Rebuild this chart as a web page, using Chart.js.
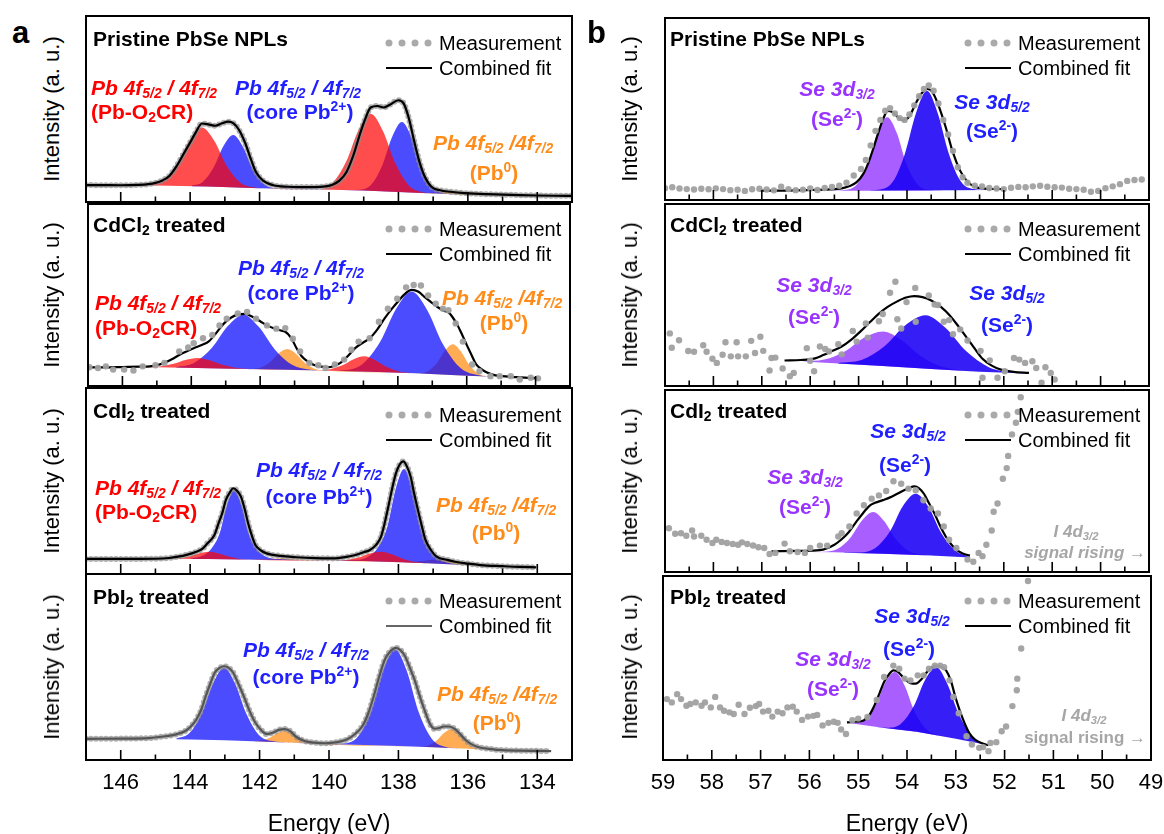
<!DOCTYPE html>
<html lang="en">
<head>
<meta charset="UTF-8">
<title>XPS Pb 4f / Se 3d</title>
<script src="https://cdn.jsdelivr.net/npm/chart.js"></script>
<style>
  body { margin: 0; background: #fff; font-family: "Liberation Sans", Arial, sans-serif; }
  #fig { position: relative; width: 1164px; height: 834px; overflow: hidden; }
  canvas { position: absolute; }
  .t { position: absolute; white-space: nowrap; line-height: 1; }
  .c { transform: translate(-50%, -50%); }
  .l { transform: translate(0, -50%); }
  .r { transform: translate(-100%, -50%); }
  .title { font-weight: bold; font-size: 21px; color: #000; }
  .leg { font-size: 20px; color: #000; }
  .lab { font-weight: bold; font-size: 21px; }
  .gray { font-weight: bold; font-size: 17px; color: #a6a6a6; }
  .it { font-style: italic; }
  sub { font-size: 0.66em; vertical-align: -0.28em; line-height: 0; }
  sup { font-size: 0.66em; vertical-align: 0.55em; line-height: 0; }
  .ylab { position: absolute; font-size: 22px; white-space: nowrap; transform: translate(-50%, -50%) rotate(-90deg); }
  .xlab { position: absolute; font-size: 23px; white-space: nowrap; transform: translate(-50%, -50%); }
  .plab { position: absolute; font-size: 31px; font-weight: bold; line-height: 1; }
  .dot { position: absolute; width: 7px; height: 7px; border-radius: 50%; background: #aaa; transform: translate(-50%, -50%); }
  .lline { position: absolute; height: 2px; transform: translate(0, -50%); }
</style>
</head>
<body>
<div id="fig"></div>

<script>
// ---------- axis ticks ----------
const pbMajor = [146, 144, 142, 140, 138, 136, 134];
const pbMinor = [145, 143, 141, 139, 137, 135];
const seMajor = [58, 57, 56, 55, 54, 53, 52, 51, 50];
const seMinor = [58.5, 57.5, 56.5, 55.5, 54.5, 53.5, 52.5, 51.5, 50.5, 49.5];
const pbTickLabels = [146, 144, 142, 140, 138, 136, 134];
const seTickLabels = [59, 58, 57, 56, 55, 54, 53, 52, 51, 50, 49];

// ---------- (a) Pb 4f : pristine ----------
const pristinePbBg = [[147,9.1],[145,8.9],[143.5,8.3],[142,7.4],[140.5,6.9],[139,6.2],[137.5,5.0],[136,3.9],[134.5,3.4],[133,3.2]];
const pristinePbRed = [[145.16,9.2],[144.76,11.5],[144.36,20.5],[144.01,33.3],[143.66,40.0],[143.31,33.0],[142.96,19.8],[142.56,10.5],[142.16,7.85],[141.8,7.3],
  [140.3,6.85],[139.9,10.2],[139.5,21.9],[139.15,38.6],[138.8,47.5],[138.45,38.3],[138.1,21.2],[137.7,8.9],[137.3,5.3],[136.9,4.6]];
const pristinePbBlue = [[143.96,8.75],[143.64,10.75],[143.32,18.7],[143.04,30.05],[142.76,36.0],[142.48,29.7],[142.2,18.1],[141.88,9.8],[141.56,7.45],[141.2,7.2],
  [139.4,6.4],[139.1,6.6],[138.78,9.4],[138.46,19.9],[138.18,35.05],[137.9,43.0],[137.62,34.6],[137.34,18.95],[137.02,8.0],[136.7,4.75],[136.3,4.1]];
const pristinePbOrange = [[137.3,4.85],[136.9,5.1],[136.6,5.7],[136.4,5.85],[136.2,5.45],[135.9,4.45],[135.5,3.75]];
const pristinePbFit = [[147,9.1],[146.5,9.05],[146,9.0],[145.5,9.2],[145.2,9.6],[145.0,10.3],[144.8,11.6],[144.6,14],[144.4,19],[144.2,25.5],[144.0,32],[143.85,37],
  [143.66,42.2],[143.45,41.6],[143.27,41.0],[143.1,42.2],[142.9,43.2],[142.75,42.3],[142.6,39],[142.42,32],[142.25,23],[142.1,16],[141.9,11.5],[141.6,9.0],
  [141.2,8.2],[140.8,8.0],[140.4,8.0],[140.1,8.4],[139.9,9.3],[139.7,11.5],[139.5,16],[139.3,25],[139.1,37],[138.95,45],[138.8,50.8],[138.6,51.6],[138.43,50.8],
  [138.25,52.3],[138.0,54.7],[137.85,53],[137.7,45],[137.55,33],[137.4,22],[137.25,14],[137.05,8.2],[136.8,6.3],[136.5,5.5],[136.1,4.8],[135.5,4.2],[135,4.0],
  [134.5,3.7],[134,3.5],[133.5,3.35],[133,3.3]];
const pristinePbMeas = pristinePbFit;   // measured points sit on the fit curve

// ---------- (a) Pb 4f : CdCl2 ----------
const cdcl2PbBg = [[147,10.4],[145,10.3],[143.5,9.8],[142,9.2],[140.5,8.6],[139,8.0],[137.5,7.0],[136,5.6],[135,5.0],[133.9,4.3]];
const cdcl2PbBlue = [[144.44,10.4],[143.92,12.65],[143.4,20.95],[142.94,32.9],[142.49,39.2],[142.04,32.5],[141.58,20.25],[141.06,11.5],[140.54,8.9],[140.0,8.4],
  [139.55,8.7],[139.03,12.0],[138.51,24.4],[138.05,42.4],[137.6,51.9],[137.15,41.8],[136.69,23.0],[136.17,9.75],[135.65,5.9],[135.2,5.1]];
const cdcl2PbRed = [[145.32,10.35],[144.92,10.7],[144.52,12.2],[144.17,14.3],[143.82,15.4],[143.47,14.1],[143.12,11.75],[142.72,10.0],[142.32,9.3],
  [140.6,8.65],[140.33,8.6],[139.97,9.15],[139.61,11.35],[139.3,14.6],[138.98,16.3],[138.67,14.3],[138.35,10.7],[137.99,8.1],[137.63,7.1]];
const cdcl2PbOrange = [[142.26,9.3],[141.98,10.15],[141.7,13.35],[141.46,17.95],[141.21,20.35],[140.96,17.75],[140.72,13.0],[140.44,9.6],[140.16,8.45],
  [137.7,7.15],[137.4,6.9],[137.13,8.1],[136.86,12.75],[136.63,19.45],[136.4,23.0],[136.17,19.05],[135.94,11.95],[135.67,6.9],[135.4,5.2]];
const cdcl2PbFit = [[147,10.3],[146.5,10.2],[146,10.4],[145.5,10.6],[145.2,10.8],[145.0,11.4],[144.78,12.7],[144.55,14.8],[144.35,17.0],[144.1,19.3],[143.93,20.8],
  [143.7,22.5],[143.5,24.4],[143.3,28.5],[143.07,34.0],[142.85,37.5],[142.65,39.2],[142.44,39.6],[142.2,37.8],[142.0,35.6],[141.8,33.3],[141.59,31.6],[141.4,30.5],
  [141.27,29.8],[141.1,26.5],[140.95,21.0],[140.8,16.5],[140.63,13.6],[140.45,11.7],[140.31,10.9],[140.04,10.3],[139.85,11.0],[139.67,12.7],[139.45,16.5],
  [139.24,20.8],[139.0,24.0],[138.82,26.2],[138.6,31],[138.39,37.0],[138.17,42.5],[137.97,47.0],[137.8,50.5],[137.6,52.8],[137.4,51.8],[137.22,48.8],[137.03,46.0],
  [136.85,43.4],[136.65,41.2],[136.53,40.4],[136.4,37.5],[136.27,33.5],[136.13,28],[136.0,22.6],[135.86,17],[135.73,12.0],[135.55,9.0],[135.41,7.4],[135.2,6.0],
  [134.99,5.4],[134.56,4.9],[134.2,4.5],[133.93,4.2]];
const cdcl2PbMeas = [[146.96,10.3],[146.71,9.9],[146.48,10.8],[146.27,9.0],[145.95,9.0],[145.68,8.5],[145.41,10.8],[145.04,11.4],[144.78,12.7],[144.35,19.0],
  [144.09,21.2],[143.93,23.5],[143.66,26.2],[143.39,28.0],[143.18,33.3],[142.97,37.0],[142.65,39.8],[142.38,40.7],[142.12,37.0],[141.8,33.3],[141.53,31.5],
  [141.27,31.8],[141.05,26.0],[140.84,19.0],[140.57,12.7],[140.31,11.4],[140.1,9.9],[139.83,11.8],[139.56,14.5],[139.35,19.9],[139.14,24.4],[138.82,26.2],
  [138.55,35.3],[138.29,42.5],[138.02,47.9],[137.76,54.2],[137.54,55.5],[137.33,55.2],[137.12,49.7],[136.9,45.2],[136.69,42.5],[136.53,41.6],[136.32,34.4],
  [136.11,24.4],[135.84,11.8],[135.63,8.1],[135.31,5.4],[135.04,5.4],[134.72,5.4],[134.46,3.6],[134.14,4.5],[133.93,4.2]];

// ---------- (a) Pb 4f : CdI2 ----------
const cdi2PbBg = [[147,8.1],[145,8.2],[143.5,8.0],[142,7.6],[140.5,7.4],[139,7.0],[137.5,6.0],[136,4.8],[134,3.6]];
const cdi2PbBlue = [[144.0,8.15],[143.63,9.9],[143.39,13.6],[143.15,21.9],[142.94,37.15],[142.73,45.2],[142.52,37.05],[142.31,21.7],[142.07,13.2],[141.83,9.45],
  [141.45,8.0],[140.0,7.25],[139.2,7.6],[138.86,9.45],[138.59,14.2],[138.32,25.35],[138.08,45.65],[137.84,56.4],[137.6,45.35],[137.36,24.65],[137.09,13.1],
  [136.82,7.9],[136.5,5.8],[136.1,4.9]];
const cdi2PbRed = [[144.65,8.2],[144.33,8.5],[144.01,9.6],[143.73,11.15],[143.45,12.0],[143.17,11.05],[142.89,9.35],[142.57,8.1],[142.25,7.65],
  [140.0,7.25],[139.85,7.25],[139.49,7.57],[139.13,9.0],[138.82,11.05],[138.5,12.0],[138.19,10.65],[137.87,8.25],[137.51,6.47],[137.15,5.75]];
const cdi2PbOrange = [[142.4,7.7],[141.9,7.95],[141.4,8.5],[140.9,7.85],[140.4,7.4],[138.2,6.45],[137.8,6.33],[137.4,6.9],[137.05,7.6],[136.7,7.95],
  [136.35,7.1],[136.0,5.8],[135.6,4.78],[135.2,4.3]];
const cdi2PbFit = [[147,8.1],[146,8.1],[145,8.2],[144.6,8.6],[144.35,9.3],[144.1,10.3],[143.82,12.0],[143.65,13.5],[143.5,16.5],[143.3,21],[143.18,27.3],
  [143.07,33],[142.97,39.9],[142.85,44],[142.76,46.1],[142.65,44.8],[142.54,41.7],[142.43,35],[142.33,27.3],[142.22,20.5],[142.12,15.6],[141.95,12.5],
  [141.8,11.1],[141.4,9.7],[140.95,9.0],[140.4,8.5],[139.88,8.4],[139.5,9.2],[139.24,10.2],[139.0,11.7],[138.82,12.9],[138.65,15.5],[138.5,20.1],[138.4,27],
  [138.29,36.3],[138.18,46],[138.07,54.2],[137.96,59],[137.86,60.5],[137.76,58],[137.65,52.4],[137.55,43.5],[137.44,34.5],[137.33,26],[137.22,18.3],
  [137.05,12.5],[136.9,9.3],[136.6,7.6],[136.37,6.6],[136.0,5.6],[135.63,4.8],[135.0,4.2],[134.5,3.8],[134.03,3.6]];
const cdi2PbMeas = cdi2PbFit;

// ---------- (a) Pb 4f : PbI2 ----------
const pbi2PbBg = [[147,11.4],[145,11.3],[144,11.0],[143,10.6],[142,10.0],[141,9.3],[140,8.6],[139,8.1],[138,7.5],[137,6.8],[136,6.0],[135,5.3],[134,4.9],[133.6,4.8]];
const pbi2PbBlue = [[144.4,11.5],[144.02,14.5],[143.66,25.45],[143.34,41.25],[143.02,49.6],[142.7,40.9],[142.38,24.85],[142.02,13.5],[141.64,10.15],[141.2,9.45],
  [140.0,8.6],[139.54,8.97],[139.16,12.8],[138.77,27.35],[138.44,48.35],[138.1,59.4],[137.76,47.95],[137.43,26.5],[137.04,11.45],[136.66,7.12],[136.2,6.15]];
const pbi2PbOrange = [[142.17,10.1],[141.93,10.5],[141.69,12.1],[141.48,14.45],[141.27,15.6],[141.06,14.15],[140.85,11.5],[140.61,9.6],[140.37,8.85],
  [137.6,7.2],[137.38,7.05],[137.14,7.8],[136.9,10.5],[136.69,14.45],[136.48,16.5],[136.27,14.1],[136.06,9.85],[135.82,6.75],[135.58,5.7]];
const pbi2PbFit = [[147,11.4],[146,11.5],[145.2,11.8],[144.67,12.9],[144.4,13.8],[144.14,15.6],[143.98,18],[143.82,21.8],[143.68,27],[143.55,34.3],[143.42,41],
  [143.29,46.9],[143.15,49.5],[143.02,50.4],[142.89,49.5],[142.76,46.9],[142.6,40.5],[142.44,33.5],[142.28,26],[142.12,20.0],[141.95,16],[141.8,14.0],
  [141.68,14.3],[141.59,14.9],[141.45,16.2],[141.27,16.6],[141.1,15.3],[140.95,12.5],[140.7,10.2],[140.41,9.3],[140.1,9.0],[139.88,9.3],[139.66,10],
  [139.46,11.3],[139.25,14],[139.03,18.4],[138.87,25],[138.71,34.3],[138.55,45],[138.39,54],[138.23,58.5],[138.07,60.3],[137.94,59],[137.81,55.8],
  [137.68,50],[137.54,43.3],[137.38,34],[137.22,25.4],[137.08,19],[136.96,16.8],[136.82,17.2],[136.69,18.0],[136.55,18],[136.37,16.6],[136.2,13.5],
  [136.05,10.5],[135.85,8.0],[135.63,6.6],[135.3,5.8],[135.1,5.4],[134.5,5.0],[134.0,4.9],[133.6,4.8]];
const pbi2PbMeas = pbi2PbFit;

// ---------- (b) Se 3d : pristine ----------
const pristineSeBg = [[57.03,5.1],[55,5.15],[53,5.3],[52,5.6]];
const pristineSePurple = [[55.6,5.15],[55.25,5.6],[55.03,8.8],[54.8,20.3],[54.61,36.8],[54.41,45.5],[54.21,36.8],[54.02,20.3],[53.79,8.8],[53.57,5.65],[53.3,5.3]];
const pristineSeBlue = [[54.9,5.2],[54.55,5.8],[54.29,10.1],[54.04,25.75],[53.81,48.05],[53.59,60.0],[53.37,48.1],[53.14,25.85],[52.89,10.3],[52.63,6.05],[52.3,5.5]];
const pristineSeFit = [[57.03,5.1],[56.5,5.2],[56.0,5.5],[55.6,5.8],[55.35,6.4],[55.2,7.5],[55.04,9.8],[54.9,14.5],[54.8,20.3],[54.7,28],[54.58,38],[54.5,44],
  [54.4,49],[54.3,48.3],[54.2,45.8],[54.08,43.8],[53.95,46],[53.82,53],[53.7,58.5],[53.58,61],[53.48,59.5],[53.35,52],[53.2,40],[53.05,26],[52.9,16],
  [52.75,10],[52.6,7.3],[52.4,6.3],[52.0,6.0]];
const pristineSeMeas = [[59.0,6.5],[58.85,7.0],[58.7,6.3],[58.55,6.0],[58.4,5.8],[58.25,6.2],[58.1,5.9],[57.95,6.4],[57.8,6.0],[57.65,5.4],[57.5,5.6],[57.35,5.0],
  [57.2,5.9],[57.05,6.2],[56.9,5.8],[56.75,5.3],[56.6,7.3],[56.45,6.0],[56.3,5.4],[56.15,5.7],[56.0,6.3],[55.85,5.5],[55.7,6.6],[55.55,7.2],[55.4,7.8],
  [55.25,9.5],[55.1,13.5],[54.95,17],[54.85,22],[54.75,30],[54.65,38],[54.55,44],[54.45,49],[54.35,50.5],[54.25,47.5],[54.15,45],[54.05,44],[53.95,47],
  [53.85,52],[53.75,57],[53.65,61],[53.55,63],[53.45,60],[53.35,53],[53.25,44],[53.15,36],[53.05,27],[52.95,18],[52.85,12.5],[52.75,9.5],[52.6,7.8],
  [52.45,7.5],[52.3,6.6],[52.15,6.3],[52.0,6.0],[51.85,6.7],[51.7,7.2],[51.55,7.0],[51.4,7.5],[51.25,7.8],[51.1,7.3],[50.95,7.0],[50.8,6.8],[50.65,6.2],
  [50.5,6.0],[50.35,5.6],[50.2,4.5],[50.05,5.0],[49.9,6.5],[49.75,7.5],[49.6,8.7],[49.45,10.5],[49.3,11.0],[49.15,11.3]];

// ---------- (b) Se 3d : CdCl2 ----------
const cdcl2SeBg = [[56.53,14.0],[55.5,12.5],[54.5,11.0],[53.5,9.3],[52.5,7.8],[51.48,6.9]];
const cdcl2SePurple = [[56.15,13.5],[55.71,14.5],[55.27,19.25],[54.89,26.5],[54.5,30],[54.11,25.2],[53.73,16.8],[53.29,10.7],[52.85,8.5],[52.4,7.7]];
const cdcl2SeBlue = [[55.42,12.7],[54.94,14.25],[54.46,21.95],[54.04,33.25],[53.62,38.9],[53.2,31.85],[52.78,19.2],[52.3,10.2],[51.82,7.5],[51.5,6.95]];
const cdcl2SeFit = [[56.53,14.0],[56.2,14.3],[55.9,15.2],[55.73,17.0],[55.55,19.2],[55.35,21.7],[55.15,25.5],[54.96,30.0],[54.77,35],[54.58,39.8],[54.4,43.5],
  [54.2,46.5],[54.02,48.6],[53.85,49.4],[53.68,48.8],[53.5,47.0],[53.3,43.5],[53.12,38.9],[52.93,32.5],[52.75,26.0],[52.6,20.5],[52.44,15.0],[52.25,11.2],
  [52.06,9.0],[51.8,7.8],[51.48,7.2]];
const cdcl2SeMeas = [[58.9,28.9],[58.86,21.0],[58.71,25.1],[58.52,19.2],[58.4,18.8],[58.21,22.4],[58.14,18.8],[58.02,15.0],[57.93,12.7],[57.81,17.2],[57.75,24.0],
  [57.64,16.3],[57.52,24.0],[57.49,16.3],[57.33,16.3],[57.22,24.8],[57.14,18.1],[57.03,27.1],[56.97,19.3],[56.84,8.5],[56.8,15.4],[56.72,15.6],[56.57,9.6],
  [56.42,5.4],[56.34,7.2],[56.07,20.8],[56.0,13.9],[55.92,8.1],[55.8,21.7],[55.69,20.3],[55.61,19.0],[55.42,23.0],[55.35,17.4],[55.12,30.2],[55.04,24.4],
  [54.85,34.4],[54.81,26.6],[54.58,35.6],[54.5,39.6],[54.35,51.2],[54.24,57.3],[54.2,36.7],[54.12,31.6],[54.01,46.1],[53.83,53.9],[53.82,35.3],[53.55,49.7],
  [53.43,44.8],[53.36,44.5],[53.24,35.3],[53.13,36.2],[53.05,28.4],[52.9,31.1],[52.75,25.0],[52.48,19.3],[52.44,4.5],[52.29,14.1],[52.13,4.5],[51.98,8.1],
  [51.79,15.4],[51.68,14.5],[51.56,12.7],[51.41,13.6],[51.33,9.9],[51.22,1.8],[51.14,10.3],[51.03,7.2],[50.95,3.6]];

// ---------- (b) Se 3d : CdI2 ----------
const cdi2SeBg = [[56.8,11.4],[55.5,10.8],[54.5,10.0],[53.5,9.0],[52.7,8.0]];
const cdi2SePurple = [[56.0,11.05],[55.7,11.15],[55.43,12.75],[55.16,19.1],[54.93,28.25],[54.7,33.0],[54.47,27.85],[54.24,18.35],[53.97,11.5],[53.7,9.45],[53.4,8.9]];
const cdi2SeBlue = [[55.3,10.65],[54.96,10.77],[54.66,13.1],[54.35,22.45],[54.09,36.0],[53.82,43.0],[53.55,35.45],[53.29,21.35],[52.98,11.35],[52.7,8.37]];
const cdi2SeFit = [[56.8,11.4],[56.2,11.6],[55.8,12.0],[55.5,15.0],[55.35,18],[55.2,22.0],[55.05,27.5],[54.89,33.0],[54.77,36.5],[54.66,38.0],[54.5,39.5],
  [54.35,41.0],[54.2,43],[54.05,45.0],[53.93,46.5],[53.85,47.0],[53.75,46],[53.65,43],[53.55,38],[53.43,32.0],[53.32,25.5],[53.2,19.5],[53.08,15],[52.98,12.3],
  [52.85,10.2],[52.7,9.0]];
const cdi2SeMeas = [[58.92,24.0],[58.79,21.0],[58.67,21.3],[58.56,19.9],[58.44,22.8],[58.4,19.5],[58.25,19.9],[58.14,17.7],[58.02,15.9],[57.94,17.7],[57.83,16.5],
  [57.72,15.9],[57.6,15.4],[57.49,15.0],[57.41,16.3],[57.3,15.4],[57.18,14.6],[57.07,13.6],[56.95,13.2],[56.84,9.9],[56.72,10.5],[56.53,15.6],[56.42,11.4],
  [56.26,11.0],[56.11,10.5],[56.0,13.2],[55.8,14.5],[55.65,14.5],[55.42,19.5],[55.35,21.3],[55.19,25.0],[55.04,32.2],[54.89,36.7],[54.73,40.3],[54.58,42.1],
  [54.43,44.5],[54.28,49.9],[54.12,48.5],[53.97,45.8],[53.82,44.9],[53.66,39.4],[53.51,34.9],[53.36,32.2],[53.24,25.0],[53.13,17.7],[52.98,13.2],[52.75,6.9],
  [52.63,5.6],[52.52,10.5],[52.44,8.7],[52.36,15.0],[52.25,22.8],[52.21,33.1],[52.13,37.6],[52.02,51.2],[51.94,57.1],[51.91,63.8],[51.83,75.6],[51.75,82],
  [51.71,88],[51.65,96],[51.58,106]];

// ---------- (b) Se 3d : PbI2 ----------
const pbi2SeBg = [[55.23,20.2],[54.5,17.5],[53.8,15.3],[53.0,11.5],[52.33,8.0]];
const pbi2SePurple = [[55.23,20.25],[55.09,20.05],[54.87,21.7],[54.64,29.7],[54.45,41.7],[54.25,47.8],[54.05,40.5],[53.86,27.2],[53.63,17.4],[53.41,13.85],[53.2,12.5]];
const pbi2SeBlue = [[54.6,17.9],[54.4,17.5],[54.13,19.5],[53.86,29.3],[53.63,43.5],[53.4,50.4],[53.17,41.2],[52.94,25.0],[52.67,13.1],[52.4,8.8],[52.33,8.0]];
const pbi2SeFit = [[55.23,20.4],[55.05,20.8],[54.89,21.5],[54.77,24.5],[54.66,30.0],[54.56,36.5],[54.47,42.4],[54.37,46.5],[54.28,48.7],[54.18,47.8],[54.05,44.0],
  [53.93,41.8],[53.82,41.5],[53.7,44.0],[53.59,47.8],[53.48,50.5],[53.4,51.3],[53.3,50.5],[53.2,48.7],[53.1,43],[53.01,34.3],[52.92,27],[52.82,20.0],
  [52.72,14.5],[52.6,11.0],[52.45,9.0],[52.33,8.0]];
const pbi2SeMeas = [[58.92,33.1],[58.82,31.3],[58.71,35.8],[58.63,33.1],[58.52,29.5],[58.44,30.4],[58.33,31.3],[58.21,29.5],[58.14,31.3],[58.02,28.6],[57.93,34.3],
  [57.83,28.6],[57.75,26.8],[57.64,25.9],[57.55,25.0],[57.45,30.0],[57.33,25.0],[57.22,28.4],[57.1,29.3],[57.03,30.4],[56.95,26.3],[56.84,26.8],[56.76,23.6],
  [56.65,26.3],[56.55,25.4],[56.45,28.6],[56.34,29.0],[56.26,26.3],[56.15,21.8],[56.03,23.6],[55.92,24.0],[55.84,24.5],[55.73,18.8],[55.61,20.2],[55.5,20.8],
  [55.42,20.2],[55.35,16.6],[55.25,14.1],[55.12,21.6],[55.0,22.5],[54.81,23.4],[54.62,32.6],[54.47,45.1],[54.28,51.3],[54.16,49.6],[54.05,44.2],[53.93,43.3],
  [53.78,46.0],[53.66,46.0],[53.55,49.6],[53.43,51.3],[53.32,51.3],[53.24,50.4],[53.13,43.3],[53.05,34.3],[52.94,25.4],[52.78,12.9],[52.67,8.4],[52.52,6.6],
  [52.44,7.0],[52.33,4.8],[52.29,9.3],[52.17,9.7],[52.06,15.6],[51.97,18.2],[51.84,29.3],[51.75,37.9],[51.74,44.2],[51.66,60.6],[51.52,97.3]];

// ---------- styling ----------
const RED = 'rgba(255,0,0,0.7)';
const BLUE = 'rgba(0,0,255,0.7)';
const ORANGE = 'rgba(255,140,20,0.72)';
const SE_PURPLE = 'rgba(150,60,255,0.82)';
const SE_BLUE = 'rgba(25,0,245,0.88)';
const FONT = '"Liberation Sans", Arial, sans-serif';

const fig = document.getElementById('fig');
const pts = arr => arr.map(p => ({x: p[0], y: p[1]}));

const framePlugin = {
  id: 'frame',
  afterDraw(chart, args, o) {
    const {ctx, chartArea: a} = chart;
    const x = chart.scales.x;
    ctx.save();
    ctx.strokeStyle = '#000';
    ctx.lineWidth = 1.6;
    ctx.beginPath();
    o.major.forEach(v => { const px = x.getPixelForValue(v); ctx.moveTo(px, a.bottom); ctx.lineTo(px, a.bottom - 10); });
    o.minor.forEach(v => { const px = x.getPixelForValue(v); ctx.moveTo(px, a.bottom); ctx.lineTo(px, a.bottom - 5.5); });
    ctx.stroke();
    ctx.lineWidth = 2;
    ctx.strokeRect(a.left, a.top, a.right - a.left, a.bottom - a.top);
    if (o.labels) {
      ctx.fillStyle = '#000';
      ctx.font = '22px ' + FONT;
      ctx.textAlign = 'center';
      ctx.textBaseline = 'middle';
      o.labels.forEach(v => ctx.fillText(String(v), x.getPixelForValue(v), a.bottom + 23));
    }
    ctx.restore();
  }
};

function area(data, color, order) {
  return {data: pts(data), backgroundColor: color, borderWidth: 0, fill: 0, order: order,
          cubicInterpolationMode: 'monotone', pointRadius: 0};
}

function makePanel(left, top, width, xmin, xmax, bg, comps, fit, meas, measStyle, fitColor, ticks, bottom) {
  const h = 186;
  const cv = document.createElement('canvas');
  const padB = bottom ? 62 : 2;
  const padX = bottom ? 24 : 2;
  cv.width = width + 2 * padX;
  cv.height = h + 2 + padB;
  cv.style.left = (left - padX) + 'px';
  cv.style.top = (top - 2) + 'px';
  fig.appendChild(cv);

  const datasets = [
    {data: pts(bg), borderWidth: 0, pointRadius: 0, fill: false, order: 9}
  ];
  comps.forEach(c => datasets.push(area(c[0], c[1], c[2])));
  datasets.push({data: pts(fit), borderColor: fitColor, borderWidth: 2.2, pointRadius: 0, fill: false,
                 cubicInterpolationMode: 'monotone', order: measStyle === 'dots' ? 1 : 0});
  if (measStyle === 'halo') {
    datasets.push({data: pts(meas), borderColor: 'rgba(140,140,140,0.7)', borderWidth: 6, borderDash: [0, 5],
                   borderCapStyle: 'round', pointRadius: 0, fill: false, cubicInterpolationMode: 'monotone', order: 1});
  } else {
    datasets.push({data: pts(meas), showLine: false, pointRadius: 3.2, pointBorderWidth: 0,
                   pointBackgroundColor: 'rgba(160,160,160,0.95)', fill: false, order: 0});
  }

  new Chart(cv.getContext('2d'), {
    type: 'line',
    data: {datasets},
    options: {
      responsive: false,
      animation: false,
      devicePixelRatio: 1,
      layout: {padding: {left: padX, right: padX, top: 2, bottom: padB}},
      scales: {
        x: {type: 'linear', reverse: true, min: xmax, max: xmin, display: false},
        y: {min: 0, max: 100, display: false}
      },
      plugins: {
        legend: {display: false},
        tooltip: {enabled: false},
        frame: {major: ticks[0], minor: ticks[1], labels: bottom ? ticks[2] : null}
      }
    },
    plugins: [framePlugin]
  });
}

const tops = [16, 202, 388, 574];
const PBL = 86, PBW = 486, SEL = 663, SEW = 488;
const pbTicks = [pbMajor, pbMinor, pbTickLabels];
const seTicks = [seMajor, seMinor, seTickLabels];

makePanel(PBL, tops[0], PBW, 133, 147, pristinePbBg,
  [[pristinePbOrange, ORANGE, 5], [pristinePbBlue, BLUE, 4], [pristinePbRed, RED, 3]],
  pristinePbFit, pristinePbMeas, 'halo', '#000', pbTicks, false);
makePanel(PBL, tops[1], PBW, 133, 147, cdcl2PbBg,
  [[cdcl2PbOrange, ORANGE, 5], [cdcl2PbBlue, BLUE, 4], [cdcl2PbRed, RED, 3]],
  cdcl2PbFit, cdcl2PbMeas, 'dots', '#000', pbTicks, false);
makePanel(PBL, tops[2], PBW, 133, 147, cdi2PbBg,
  [[cdi2PbOrange, ORANGE, 5], [cdi2PbBlue, BLUE, 4], [cdi2PbRed, RED, 3]],
  cdi2PbFit, cdi2PbMeas, 'halo', '#000', pbTicks, false);
makePanel(PBL, tops[3], PBW, 133, 147, pbi2PbBg,
  [[pbi2PbOrange, ORANGE, 5], [pbi2PbBlue, BLUE, 4]],
  pbi2PbFit, pbi2PbMeas, 'halo', '#555', pbTicks, true);

makePanel(SEL, tops[0], SEW, 49, 59, pristineSeBg,
  [[pristineSePurple, SE_PURPLE, 5], [pristineSeBlue, SE_BLUE, 4]],
  pristineSeFit, pristineSeMeas, 'dots', '#000', seTicks, false);
makePanel(SEL, tops[1], SEW, 49, 59, cdcl2SeBg,
  [[cdcl2SePurple, SE_PURPLE, 5], [cdcl2SeBlue, SE_BLUE, 4]],
  cdcl2SeFit, cdcl2SeMeas, 'dots', '#000', seTicks, false);
makePanel(SEL, tops[2], SEW, 49, 59, cdi2SeBg,
  [[cdi2SePurple, SE_PURPLE, 5], [cdi2SeBlue, SE_BLUE, 4]],
  cdi2SeFit, cdi2SeMeas, 'dots', '#000', seTicks, false);
makePanel(SEL, tops[3], SEW, 49, 59, pbi2SeBg,
  [[pbi2SePurple, SE_PURPLE, 5], [pbi2SeBlue, SE_BLUE, 4]],
  pbi2SeFit, pbi2SeMeas, 'dots', '#000', seTicks, true);

// ---------- text ----------
function txt(x, y, anchor, cls, color, html) {
  const d = document.createElement('div');
  d.className = 't ' + anchor + ' ' + cls;
  d.style.left = x + 'px';
  d.style.top = y + 'px';
  if (color) d.style.color = color;
  d.innerHTML = html;
  fig.appendChild(d);
}
function legend(dotX, textX, top, lineColor) {
  for (let i = 0; i < 4; i++) {
    const d = document.createElement('div');
    d.className = 'dot';
    d.style.left = (dotX + i * 13) + 'px';
    d.style.top = (top + 27) + 'px';
    fig.appendChild(d);
  }
  txt(textX, top + 27, 'l', 'leg', null, 'Measurement');
  const ln = document.createElement('div');
  ln.className = 'lline';
  ln.style.left = (dotX - 3) + 'px';
  ln.style.top = (top + 52) + 'px';
  ln.style.width = '46px';
  ln.style.background = lineColor;
  fig.appendChild(ln);
  txt(textX, top + 52, 'l', 'leg', null, 'Combined fit');
}

const C_RED = '#ff0000', C_BLUE = '#1f1fff', C_OR = '#ff8c1a', C_PUR = '#9933ff';
const PB = 'Pb 4f<sub>5/2</sub> / 4f<sub>7/2</sub>';
const PBO = 'Pb 4f<sub>5/2</sub> /4f<sub>7/2</sub>';
const OX = '(Pb-O<sub>2</sub>CR)';
const CORE = '(core Pb<sup>2+</sup>)';
const PB0 = '(Pb<sup>0</sup>)';
const SE32 = 'Se 3d<sub>3/2</sub>';
const SE52 = 'Se 3d<sub>5/2</sub>';
const SE2 = '(Se<sup>2-</sup>)';

const titles = ['Pristine PbSe NPLs', 'CdCl<sub>2</sub> treated', 'CdI<sub>2</sub> treated', 'PbI<sub>2</sub> treated'];
tops.forEach((t, i) => {
  txt(93, t + 22, 'l', 'title', null, titles[i]);
  txt(670, t + 22, 'l', 'title', null, titles[i]);
  legend(389, 439, t, i === 3 ? '#666' : '#000');
  legend(968, 1018, t, '#000');
  for (const cx of [52, 630]) {
    const y = document.createElement('div');
    y.className = 'ylab';
    y.style.left = cx + 'px';
    y.style.top = (t + 93) + 'px';
    y.textContent = 'Intensity (a. u.)';
    fig.appendChild(y);
  }
});

// panel a annotations
txt(91, 87, 'l', 'lab it', C_RED, PB);   txt(91, 111, 'l', 'lab', C_RED, OX);
txt(298, 87, 'c', 'lab it', C_BLUE, PB); txt(300, 111, 'c', 'lab', C_BLUE, CORE);
txt(493, 142, 'c', 'lab it', C_OR, PBO); txt(494, 172, 'c', 'lab', C_OR, PB0);

txt(301, 267, 'c', 'lab it', C_BLUE, PB); txt(301, 292, 'c', 'lab', C_BLUE, CORE);
txt(95, 302, 'l', 'lab it', C_RED, PB);   txt(95, 327, 'l', 'lab', C_RED, OX);
txt(502, 297, 'c', 'lab it', C_OR, PBO);  txt(504, 322, 'c', 'lab', C_OR, PB0);

txt(95, 487, 'l', 'lab it', C_RED, PB);   txt(95, 511, 'l', 'lab', C_RED, OX);
txt(319, 469, 'c', 'lab it', C_BLUE, PB); txt(319, 496, 'c', 'lab', C_BLUE, CORE);
txt(496, 504, 'c', 'lab it', C_OR, PBO);  txt(496, 532, 'c', 'lab', C_OR, PB0);

txt(306, 649, 'c', 'lab it', C_BLUE, PB); txt(306, 676, 'c', 'lab', C_BLUE, CORE);
txt(497, 693, 'c', 'lab it', C_OR, PBO);  txt(497, 722, 'c', 'lab', C_OR, PB0);

// panel b annotations
txt(837, 88, 'c', 'lab it', C_PUR, SE32);  txt(837, 118, 'c', 'lab', C_PUR, SE2);
txt(992, 101, 'c', 'lab it', C_BLUE, SE52); txt(992, 130, 'c', 'lab', C_BLUE, SE2);

txt(814, 284, 'c', 'lab it', C_PUR, SE32);  txt(814, 316, 'c', 'lab', C_PUR, SE2);
txt(1007, 292, 'c', 'lab it', C_BLUE, SE52); txt(1007, 324, 'c', 'lab', C_BLUE, SE2);

txt(908, 430, 'c', 'lab it', C_BLUE, SE52); txt(905, 464, 'c', 'lab', C_BLUE, SE2);
txt(805, 476, 'c', 'lab it', C_PUR, SE32);  txt(805, 506, 'c', 'lab', C_PUR, SE2);
txt(1076, 531, 'c', 'gray it', null, 'I 4d<sub>3/2</sub>');
txt(1146, 552, 'r', 'gray it', null, 'signal rising &rarr;');

txt(912, 615, 'c', 'lab it', C_BLUE, SE52); txt(909, 648, 'c', 'lab', C_BLUE, SE2);
txt(833, 658, 'c', 'lab it', C_PUR, SE32);  txt(833, 688, 'c', 'lab', C_PUR, SE2);
txt(1084, 715, 'c', 'gray it', null, 'I 4d<sub>3/2</sub>');
txt(1146, 737, 'r', 'gray', null, 'signal rising &rarr;');

// axis titles and panel letters
for (const [cx, label] of [[329, 'Energy (eV)'], [907, 'Energy (eV)']]) {
  const d = document.createElement('div');
  d.className = 'xlab';
  d.style.left = cx + 'px';
  d.style.top = '823px';
  d.textContent = label;
  fig.appendChild(d);
}
for (const [x, l] of [[12, 'a'], [587, 'b']]) {
  const d = document.createElement('div');
  d.className = 'plab';
  d.style.left = x + 'px';
  d.style.top = '17px';
  d.textContent = l;
  fig.appendChild(d);
}
</script>
</body>
</html>
